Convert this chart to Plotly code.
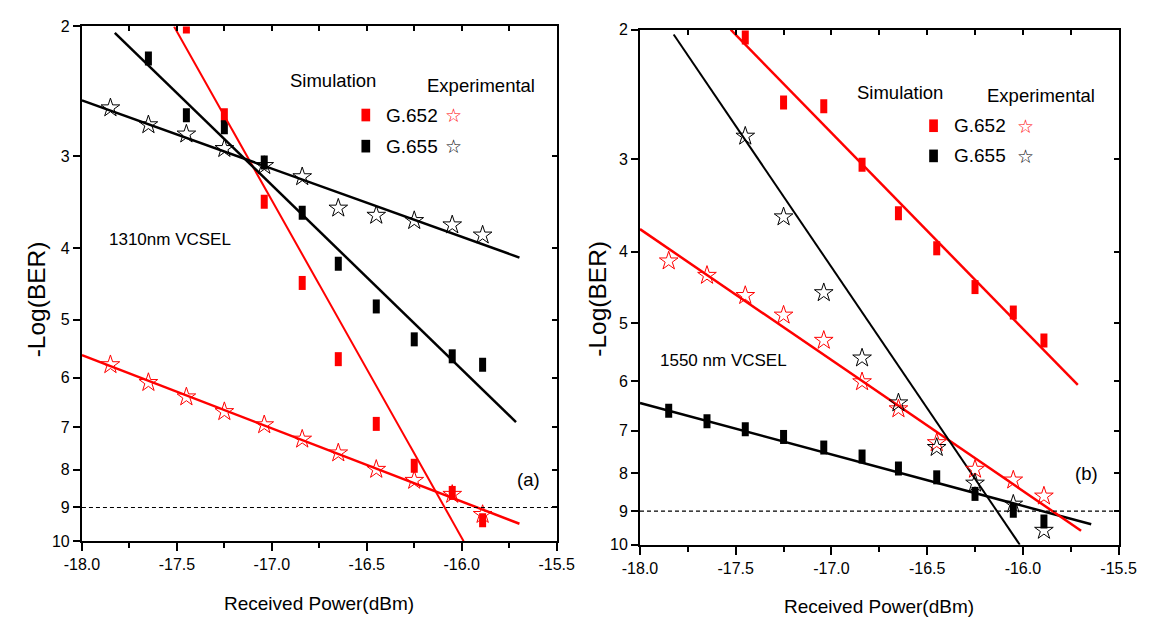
import math
import plotly.graph_objects as go

# ---------------- data: panel (a) 1310 nm VCSEL ----------------
a_sim652_x = [-17.45, -17.25, -17.04, -16.84, -16.65, -16.45, -16.25, -16.05, -15.89]
a_sim652_y = [2.00, 2.64, 3.46, 4.46, 5.66, 6.93, 7.90, 8.60, 9.37]
a_sim655_x = [-17.65, -17.45, -17.25, -17.04, -16.84, -16.65, -16.45, -16.25, -16.05, -15.89]
a_sim655_y = [2.21, 2.64, 2.74, 3.06, 3.58, 4.20, 4.80, 5.32, 5.61, 5.76]
a_exp_x = [-17.85, -17.65, -17.45, -17.25, -17.04, -16.84, -16.65, -16.45, -16.25, -16.05, -15.89]
a_exp652_y = [5.76, 6.09, 6.37, 6.67, 6.95, 7.27, 7.59, 7.99, 8.27, 8.64, 9.20]
a_exp655_y = [2.58, 2.72, 2.80, 2.93, 3.09, 3.20, 3.53, 3.61, 3.67, 3.72, 3.84]

# fitted lines (end points)
a_fit_sim652 = ([-17.515, -15.99], [2.0, 10.0])
a_fit_sim655 = ([-17.827, -15.714], [2.04, 6.89])
a_fit_exp652 = ([-18.0, -15.696], [5.59, 9.47])
a_fit_exp655 = ([-18.0, -15.696], [2.52, 4.12])

# ---------------- data: panel (b) 1550 nm VCSEL ----------------
b_x = [-17.85, -17.65, -17.45, -17.25, -17.04, -16.84, -16.65, -16.45, -16.25, -16.05, -15.89]
b_sim652_x = [-17.45, -17.25, -17.04, -16.84, -16.65, -16.45, -16.25, -16.05, -15.89]
b_sim652_y = [2.05, 2.51, 2.54, 3.05, 3.55, 3.96, 4.47, 4.84, 5.28]
b_sim655_y = [6.58, 6.80, 6.97, 7.14, 7.38, 7.59, 7.88, 8.10, 8.53, 8.99, 9.30]
b_exp652_y = [4.12, 4.31, 4.59, 4.88, 5.28, 6.01, 6.54, 7.27, 7.90, 8.17, 8.59]
b_exp655_x = [-17.45, -17.25, -17.04, -16.84, -16.65, -16.45, -16.25, -16.05, -15.89]
b_exp655_y = [2.79, 3.59, 4.55, 5.58, 6.42, 7.38, 8.25, 8.81, 9.56]

b_fit_sim652 = ([-17.526, -15.713], [2.0, 6.07])
b_fit_sim655 = ([-18.0, -15.643], [6.42, 9.38])
b_fit_exp652 = ([-18.0, -15.696], [3.73, 9.57])
b_fit_exp655 = ([-17.824, -16.016], [2.03, 10.0])

# BER threshold
ber_limit = 9
x_range = [-18.0, -15.5]
y_ticks = [2, 3, 4, 5, 6, 7, 8, 9, 10]
x_ticks = [-18.0, -17.5, -17.0, -16.5, -16.0, -15.5]
x_ticktext = ["-18.0", "-17.5", "-17.0", "-16.5", "-16.0", "-15.5"]
x_minor = [-17.75, -17.25, -16.75, -16.25, -15.75]
x_quarter = [-17.75, -17.5, -17.25, -17.0, -16.75, -16.5, -16.25, -16.0, -15.75]

RED = "#ff0000"
BLK = "#000000"
SANS = "Liberation Sans, Arial, sans-serif"
W, H = 1155, 628


def px(x):
    return x / W


def py(y):
    return 1 - y / H


fig = go.Figure()


def add_panel(xa, ya, sims, exps, fits):
    for xs, ys, col in sims:
        fig.add_trace(go.Scatter(
            x=xs, y=ys, mode="markers", xaxis=xa, yaxis=ya, showlegend=False,
            marker=dict(symbol="line-ns", size=10, color=col,
                        line=dict(width=7, color=col))))
    for (xs, ys), col, w in fits:
        fig.add_trace(go.Scatter(
            x=xs, y=ys, mode="lines", xaxis=xa, yaxis=ya, showlegend=False,
            line=dict(color=col, width=w)))
    for xs, ys, col in exps:
        fig.add_trace(go.Scatter(
            x=xs, y=ys, mode="markers", xaxis=xa, yaxis=ya, showlegend=False,
            marker=dict(symbol="star-open", size=14, color=col,
                        line=dict(width=1, color=col))))
    fig.add_trace(go.Scatter(
        x=x_range, y=[ber_limit, ber_limit], mode="lines", xaxis=xa, yaxis=ya,
        showlegend=False, line=dict(color=BLK, width=1.2, dash="4px,3px")))


add_panel("x", "y",
          [(a_sim652_x, a_sim652_y, RED), (a_sim655_x, a_sim655_y, BLK)],
          [(a_exp_x, a_exp652_y, RED), (a_exp_x, a_exp655_y, BLK)],
          [(a_fit_sim652, RED, 2), (a_fit_sim655, BLK, 2.5),
           (a_fit_exp652, RED, 2.5), (a_fit_exp655, BLK, 2.5)])
add_panel("x2", "y2",
          [(b_sim652_x, b_sim652_y, RED), (b_x, b_sim655_y, BLK)],
          [(b_x, b_exp652_y, RED), (b_exp655_x, b_exp655_y, BLK)],
          [(b_fit_sim652, RED, 2.5), (b_fit_sim655, BLK, 2.5),
           (b_fit_exp652, RED, 2.5), (b_fit_exp655, BLK, 2)])

# empty traces so the inward-tick frame axes get drawn
for xa, ya in (("x3", "y3"), ("x4", "y4")):
    fig.add_trace(go.Scatter(x=[], y=[], xaxis=xa, yaxis=ya, showlegend=False))

y_log_range = [math.log10(10), math.log10(2)]
tickfont = dict(family=SANS, size=16, color=BLK)


def main_x(domain, anchor):
    return dict(domain=domain, anchor=anchor, range=x_range, showgrid=False, zeroline=False,
                showline=True, linecolor=BLK, linewidth=2, mirror=True,
                ticks="outside", ticklen=8, tickwidth=1.5, tickcolor=BLK,
                tickvals=x_ticks, ticktext=x_ticktext, tickfont=tickfont,
                minor=dict(tickvals=x_minor, ticks="outside", ticklen=5,
                           tickwidth=1.5, tickcolor=BLK, showgrid=False))


def main_y(domain, anchor):
    return dict(domain=domain, anchor=anchor, type="log", range=y_log_range,
                showgrid=False, zeroline=False, showline=True, linecolor=BLK,
                linewidth=2, mirror=True, ticks="outside", ticklen=7, tickwidth=1.5,
                tickcolor=BLK, tickvals=y_ticks, ticktext=[str(v) for v in y_ticks],
                tickfont=tickfont)


def top_x(over, anchor):
    return dict(overlaying=over, anchor=anchor, side="top", range=x_range,
                showgrid=False, zeroline=False, showline=False, ticks="inside",
                ticklen=5, tickwidth=1.5, tickcolor=BLK, tickvals=x_quarter,
                showticklabels=False)


def right_y(over, anchor):
    return dict(overlaying=over, anchor=anchor, side="right", type="log",
                range=y_log_range, showgrid=False, zeroline=False, showline=False,
                ticks="inside", ticklen=5, tickwidth=1.5, tickcolor=BLK,
                tickvals=y_ticks[1:-1], showticklabels=False)


dom_ax = [px(66), px(556)]
dom_ay = [py(548), py(19)]
dom_bx = [px(642), px(1136)]
dom_by = [py(551.7), py(22.3)]

fig.update_layout(
    width=W, height=H, margin=dict(l=0, r=0, t=0, b=0),
    paper_bgcolor="white", plot_bgcolor="white", showlegend=False,
    xaxis=main_x(dom_ax, "y"), yaxis=main_y(dom_ay, "x"),
    xaxis2=main_x(dom_bx, "y2"), yaxis2=main_y(dom_by, "x2"),
    xaxis3=top_x("x", "y"), yaxis3=right_y("y", "x"),
    xaxis4=top_x("x2", "y2"), yaxis4=right_y("y2", "x2"),
)

annotations = []
shapes = []


def text(x, y, s, size, color=BLK, family=SANS, angle=0):
    annotations.append(dict(x=px(x), y=py(y), xref="paper", yref="paper", text=s,
                            showarrow=False, xanchor="center", yanchor="middle",
                            textangle=angle, font=dict(family=family, size=size, color=color)))


# axis titles
text(311, 612, "Received Power(dBm)", 19)
text(889, 615, "Received Power(dBm)", 19)
text(19, 299, "-Log(BER)", 24.5, angle=-90)
text(598.5, 299, "-Log(BER)", 24.5, angle=-90)

# panel captions
text(157, 238, "1310nm VCSEL", 17)
text(728.5, 362, "1550 nm VCSEL", 17)
text(527, 485, "(a)", 18.5)
text(1102.5, 478, "(b)", 18.5)

# legend blocks
legend_blocks = [
    dict(sim=(325, 75), exp=(478, 80), sq_x=359, lab_x=406.5, star_x=450, rows=(110, 142)),
    dict(sim=(910, 87), exp=(1056, 90), sq_x=945, lab_x=992.5, star_x=1040, rows=(121, 152)),
]
for lb in legend_blocks:
    text(lb["sim"][0], lb["sim"][1], "Simulation", 18.5)
    text(lb["exp"][0], lb["exp"][1], "Experimental", 18.5)
    for ry, col, lab in ((lb["rows"][0], RED, "G.652"), (lb["rows"][1], BLK, "G.655")):
        shapes.append(dict(type="rect", xref="paper", yref="paper",
                           x0=px(lb["sq_x"] - 4.5), x1=px(lb["sq_x"] + 4.5),
                           y0=py(ry + 6.5), y1=py(ry - 6.5),
                           fillcolor=col, line=dict(width=0)))
        text(lb["lab_x"], ry, lab, 19)
        text(lb["star_x"], ry, "☆", 19, color=col, family="DejaVu Sans")

fig.update_layout(annotations=annotations, shapes=shapes)

fig.write_html("out.html")
